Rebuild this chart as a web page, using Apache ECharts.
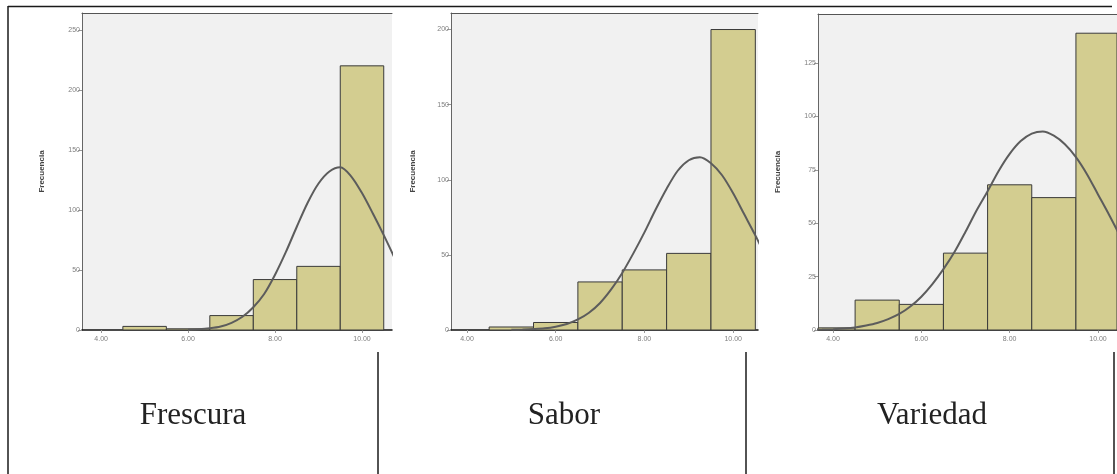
<!DOCTYPE html>
<html>
<head>
<meta charset="utf-8">
<script src="https://cdn.jsdelivr.net/npm/echarts@6/dist/echarts.min.js"></script>
<style>
  html, body { margin: 0; padding: 0; background: #fff; }
  #chart { width: 1117px; height: 474px; }
</style>
</head>
<body>
<div id="chart"></div>
<script>
// histogram bins (centred on the integer scores)
var binCenters = [4, 5, 6, 7, 8, 9, 10];
var frescura = [0, 3, 1, 12, 42, 53, 220];
var sabor = [0, 2, 5, 32, 40, 51, 200];
var variedad = [1, 14, 12, 36, 68, 62, 139];

// normal curves, every quarter point
var curveX1 = [6.0, 6.25, 6.5, 6.75, 7.0, 7.25, 7.5, 7.75, 8.0, 8.25, 8.5, 8.75, 9.0, 9.25, 9.5, 9.75, 10.0, 10.25, 10.5, 10.75];
var curveY1 = [0.3, 0.6, 1.4, 2.9, 6, 11, 19, 30, 46, 65, 86, 106, 122, 132, 135.5, 128, 114, 97, 79, 60];
var curveX2 = [5.0, 5.25, 5.5, 5.75, 6.0, 6.25, 6.5, 6.75, 7.0, 7.25, 7.5, 7.75, 8.0, 8.25, 8.5, 8.75, 9.0, 9.25, 9.5, 9.75, 10.0, 10.25, 10.5, 10.75];
var curveY2 = [0.1, 0.3, 0.6, 1.1, 2.2, 4, 7, 11.5, 18, 27, 38, 51, 65, 80, 94, 106, 113, 115, 111, 103, 91, 77, 63, 48];
var curveX3 = [3.5, 3.75, 4.0, 4.25, 4.5, 4.75, 5.0, 5.25, 5.5, 5.75, 6.0, 6.25, 6.5, 6.75, 7.0, 7.25, 7.5, 7.75, 8.0, 8.25, 8.5, 8.75, 9.0, 9.25, 9.5, 9.75, 10.0, 10.25, 10.5];
var curveY3 = [0.1, 0.2, 0.4, 0.7, 1.2, 2.1, 3.3, 5.1, 7.5, 11, 15.6, 21.5, 28.5, 36.5, 46, 56, 65, 74.5, 82.5, 88.5, 92, 93, 91, 87, 81, 73, 63.5, 54, 44];

var xTicks = [4, 6, 8, 10];
var yTicks1 = [0, 50, 100, 150, 200, 250];
var yTicks2 = [0, 50, 100, 150, 200];
var yTicks3 = [0, 25, 50, 75, 100, 125];
var names = ['Frescura', 'Sabor', 'Variedad'];

var panels = [
  { counts: frescura, cx: curveX1, cy: curveY1, yTicks: yTicks1,
    grid: { left: 82, top: 13, width: 310, height: 317 }, xMin: 3.56, xMax: 10.69, yMax: 264, gap: 36, label: 193 },
  { counts: sabor, cx: curveX2, cy: curveY2, yTicks: yTicks2,
    grid: { left: 451, top: 13, width: 307, height: 317 }, xMin: 3.64, xMax: 10.56, yMax: 211, gap: 34, label: 564 },
  { counts: variedad, cx: curveX3, cy: curveY3, yTicks: yTicks3,
    grid: { left: 818, top: 14, width: 299, height: 316 }, xMin: 3.66, xMax: 10.43, yMax: 148, gap: 36, label: 932 }
];

function renderBin(params, api) {
  var c = api.value(0), v = api.value(1);
  if (!v) return;
  var p0 = api.coord([c - 0.5, v]);
  var p1 = api.coord([c + 0.5, 0]);
  var cs = params.coordSys;
  var shape = echarts.graphic.clipRectByRect(
    { x: p0[0], y: p0[1], width: p1[0] - p0[0], height: p1[1] - p0[1] },
    { x: cs.x, y: cs.y, width: cs.width, height: cs.height });
  return shape && {
    type: 'rect',
    shape: shape,
    style: { fill: '#d3cd90', stroke: '#3a3a3a', lineWidth: 1 }
  };
}

var grids = [], xAxes = [], yAxes = [], series = [], graphics = [];
var tickFont = { fontSize: 7, color: '#808080', fontFamily: 'Liberation Sans' };

panels.forEach(function (p, i) {
  grids.push(Object.assign({ show: true, backgroundColor: '#f1f1f1', borderWidth: 0 }, p.grid));
  xAxes.push({
    type: 'value', gridIndex: i, min: p.xMin, max: p.xMax,
    axisLine: { lineStyle: { color: '#111', width: 1.5 } },
    axisTick: { show: true, length: 3, customValues: xTicks, lineStyle: { color: '#999' } },
    axisLabel: Object.assign({ customValues: xTicks, margin: 6, formatter: function (v) { return v.toFixed(2); } }, tickFont),
    splitLine: { show: false }
  });
  yAxes.push({
    type: 'value', gridIndex: i, min: 0, max: p.yMax,
    name: 'Frecuencia', nameLocation: 'middle', nameGap: p.gap, nameRotate: 90,
    nameTextStyle: { fontSize: 8, fontWeight: 'bold', color: '#444', fontFamily: 'Liberation Sans' },
    axisLine: { show: true, lineStyle: { color: '#666', width: 1 } },
    axisTick: { show: true, length: 4, customValues: p.yTicks, lineStyle: { color: '#999' } },
    axisLabel: Object.assign({ customValues: p.yTicks, margin: 2 }, tickFont),
    splitLine: { show: false }
  });
  series.push({
    type: 'custom', xAxisIndex: i, yAxisIndex: i,
    renderItem: renderBin,
    data: binCenters.map(function (c, k) { return [c, p.counts[k]]; }),
    z: 2
  });
  series.push({
    type: 'line', xAxisIndex: i, yAxisIndex: i,
    data: p.cx.map(function (x, k) { return [x, p.cy[k]]; }),
    smooth: 0.3, symbol: 'none',
    lineStyle: { color: '#5c5c5c', width: 2 },
    z: 3
  });
  graphics.push({
    type: 'text', x: p.label, y: 416,
    style: { text: names[i], fontSize: 31, fontFamily: 'Liberation Serif', fill: '#222', align: 'center', verticalAlign: 'middle' }
  });
});

// top frame of each plot
panels.forEach(function (p, i) {
  xAxes.push({
    type: 'value', gridIndex: i, position: 'top', min: p.xMin, max: p.xMax,
    axisLine: { lineStyle: { color: '#555', width: 1 } },
    axisTick: { show: false }, axisLabel: { show: false }, splitLine: { show: false }
  });
});

// table lines
var lineStyle = { stroke: '#1a1a1a', lineWidth: 1.5 };
graphics.push(
  { type: 'line', shape: { x1: 8, y1: 6.5, x2: 1112, y2: 6.5 }, style: lineStyle },
  { type: 'line', shape: { x1: 8, y1: 6, x2: 8, y2: 474 }, style: lineStyle },
  { type: 'line', shape: { x1: 378, y1: 352, x2: 378, y2: 474 }, style: lineStyle },
  { type: 'line', shape: { x1: 746, y1: 352, x2: 746, y2: 474 }, style: lineStyle },
  { type: 'line', shape: { x1: 1114, y1: 352, x2: 1114, y2: 474 }, style: lineStyle }
);

var chart = echarts.init(document.getElementById('chart'));
chart.setOption({
  animation: false,
  grid: grids,
  xAxis: xAxes,
  yAxis: yAxes,
  series: series,
  graphic: graphics
});
</script>
</body>
</html>
